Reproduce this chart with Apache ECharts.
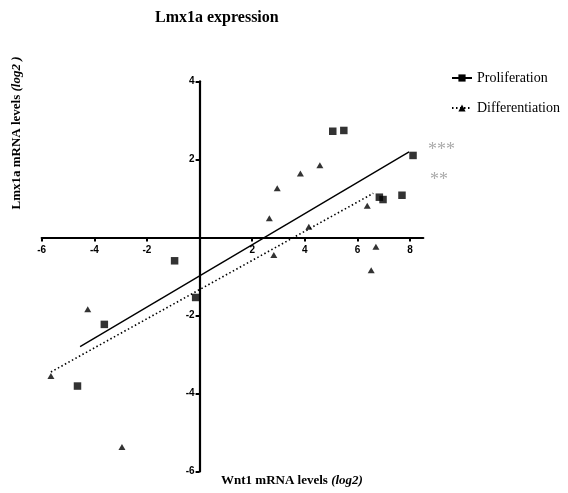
<!DOCTYPE html>
<html>
<head>
<meta charset="utf-8">
<script src="https://cdn.jsdelivr.net/npm/echarts@6/dist/echarts.min.js"></script>
<style>
html,body{margin:0;padding:0;background:#fff;}
#chart{width:568px;height:493px;}
</style>
</head>
<body>
<div id="chart"></div>
<script>
// ---- data ----
var prolifX = [5.06, 5.48, 8.11, 6.83, 6.97, 7.69, -0.95, -0.15, -3.62, -4.64];
var prolifY = [2.72, 2.74, 2.10, 1.03, 0.97, 1.08, -0.60, -1.54, -2.23, -3.81];
var diffX = [4.57, 3.83, 2.95, 2.65, 4.15, 2.82, 6.37, 6.70, 6.52, -4.25, -5.65, -2.95];
var diffY = [1.85, 1.64, 1.26, 0.49, 0.27, -0.45, 0.81, -0.24, -0.84, -1.84, -3.55, -5.37];
// regression line endpoints
var prolifFitX = [-4.54, 7.96];
var prolifFitY = [-2.80, 2.19];
var diffFitX = [-5.65, 6.60];
var diffFitY = [-3.45, 1.13];
var xTicks = [-6, -4, -2, 2, 4, 6, 8];
var yTicks = [-6, -4, -2, 2, 4];
var xRange = [-6, 8.5];
var yRange = [-6, 4];
var seriesNames = ['Proliferation', 'Differentiation'];
var sigLabels = ['***', '**'];

function pairs(xs, ys) { return xs.map(function (x, i) { return [x, ys[i]]; }); }

var chart = echarts.init(document.getElementById('chart'));
var serif = "'Liberation Serif', 'DejaVu Serif', serif";
var sans = "'Liberation Sans', Arial, sans-serif";

var grid = { left: 41.7, top: 81.3, width: 381.6, height: 390.2 };
// axes cross at the origin: shift each axis from the grid edge to the zero of the other axis
var xAxisOffset = -grid.height * (0 - yRange[0]) / (yRange[1] - yRange[0]);
var yAxisOffset = -grid.width * (0 - xRange[0]) / (xRange[1] - xRange[0]);

var option = {
  animation: false,
  backgroundColor: '#fff',
  title: {
    text: 'Lmx1a expression',
    left: 150, top: 5,
    textStyle: { fontFamily: serif, fontWeight: 'bold', fontSize: 16, color: '#000' }
  },
  legend: {
    orient: 'vertical',
    left: 446, top: 66,
    itemWidth: 20, itemHeight: 9, itemGap: 16,
    textStyle: { fontFamily: serif, fontSize: 14, color: '#000' },
    data: seriesNames
  },
  grid: { left: grid.left, top: grid.top, width: grid.width, height: grid.height, containLabel: false },
  xAxis: {
    type: 'value', min: xRange[0], max: xRange[1],
    position: 'bottom', offset: xAxisOffset,
    splitLine: { show: false },
    axisLine: { onZero: false, lineStyle: { color: '#000', width: 2.2 } },
    axisTick: { show: true, length: 4, customValues: xTicks, lineStyle: { color: '#000', width: 2 } },
    axisLabel: { customValues: xTicks, margin: 8, fontFamily: sans, fontWeight: 'bold', fontSize: 10, color: '#000' }
  },
  yAxis: {
    type: 'value', min: yRange[0], max: yRange[1],
    position: 'left', offset: yAxisOffset,
    splitLine: { show: false },
    axisLine: { onZero: false, lineStyle: { color: '#000', width: 2.2 } },
    axisTick: { show: true, length: 4, customValues: yTicks, lineStyle: { color: '#000', width: 2 } },
    axisLabel: { customValues: yTicks, margin: 5, fontFamily: sans, fontWeight: 'bold', fontSize: 10, color: '#000' }
  },
  series: [
    {
      name: seriesNames[0], type: 'line', data: pairs(prolifFitX, prolifFitY),
      symbol: 'rect', showSymbol: false, silent: true,
      itemStyle: { color: '#000' },
      lineStyle: { color: '#000', width: 1.4, type: 'solid' }
    },
    {
      name: seriesNames[1], type: 'line', data: pairs(diffFitX, diffFitY),
      symbol: 'triangle', showSymbol: false, silent: true,
      itemStyle: { color: '#000' },
      lineStyle: { color: '#000', width: 1.6, type: [1.5, 2.5] }
    },
    {
      name: seriesNames[0], type: 'scatter', data: pairs(prolifX, prolifY),
      symbol: 'rect', symbolSize: 7.5, itemStyle: { color: '#000' }
    },
    {
      name: seriesNames[1], type: 'scatter', data: pairs(diffX, diffY),
      symbol: 'triangle', symbolSize: [7, 6], itemStyle: { color: '#000' }
    }
  ],
  graphic: [
    {
      type: 'text', x: 17, y: 133, rotation: Math.PI / 2,
      style: {
        text: '{b|Lmx1a mRNA levels }{i|(log2 )}',
        x: 0, y: 0,
        align: 'center', verticalAlign: 'middle',
        rich: {
          b: { fontFamily: serif, fontWeight: 'bold', fontSize: 13, fill: '#000' },
          i: { fontFamily: serif, fontWeight: 'bold', fontStyle: 'italic', fontSize: 13, fill: '#000' }
        }
      }
    },
    {
      type: 'text', x: 292, y: 481,
      style: {
        text: '{b|Wnt1 mRNA levels }{i|(log2)}',
        x: 0, y: 0,
        align: 'center', verticalAlign: 'middle',
        rich: {
          b: { fontFamily: serif, fontWeight: 'bold', fontSize: 13, fill: '#000' },
          i: { fontFamily: serif, fontWeight: 'bold', fontStyle: 'italic', fontSize: 13, fill: '#000' }
        }
      }
    },
    {
      type: 'text', x: 428, y: 150,
      style: { text: sigLabels[0], x: 0, y: 0, verticalAlign: 'middle', fontFamily: serif, fontSize: 18, fill: '#aaa' }
    },
    {
      type: 'text', x: 430, y: 180,
      style: { text: sigLabels[1], x: 0, y: 0, verticalAlign: 'middle', fontFamily: serif, fontSize: 18, fill: '#aaa' }
    }
  ]
};
chart.setOption(option);
</script>
</body>
</html>
